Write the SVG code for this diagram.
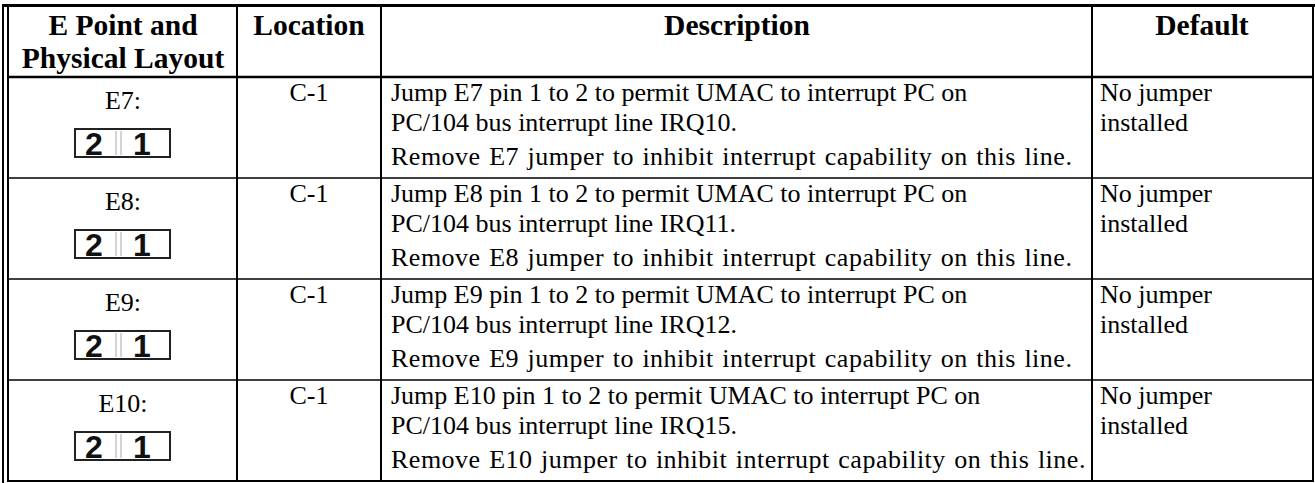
<svg xmlns="http://www.w3.org/2000/svg" width="1315" height="483" viewBox="0 0 1315 483">
<style>
.h{font-family:"Liberation Serif","Times New Roman",serif;font-weight:bold;font-size:29.5px;fill:#000;text-anchor:middle}
.t{font-family:"Liberation Serif","Times New Roman",serif;font-size:26px;fill:#000}
.w{letter-spacing:0.5px;word-spacing:1.5px}
.c{text-anchor:middle}
.pin{font-family:"Liberation Sans",Arial,sans-serif;font-weight:bold;font-size:32px;fill:#111;text-anchor:middle}
.g{stroke:#000;fill:none}
.box{fill:#fff;stroke:#222;stroke-width:2}
.sep{stroke:#aaa;stroke-width:1}
</style>
<rect width="1315" height="483" fill="#fff"/>
<g id="grid" class="g">
<line x1="2" y1="5.5" x2="1315" y2="5.5" stroke-width="3"/>
<line x1="3" y1="4" x2="3" y2="483" stroke-width="2"/>
<line x1="8" y1="7" x2="8" y2="482" stroke-width="2"/>
<line x1="1313" y1="4" x2="1313" y2="482" stroke-width="2"/>
<line x1="8" y1="481" x2="1314" y2="481" stroke-width="2"/>
<line x1="8" y1="77" x2="1313" y2="77" stroke-width="2.5"/>
<line x1="8" y1="178" x2="1313" y2="178" stroke-width="1.5"/>
<line x1="8" y1="279" x2="1313" y2="279" stroke-width="1.5"/>
<line x1="8" y1="380" x2="1313" y2="380" stroke-width="1.5"/>
<line x1="237" y1="6" x2="237" y2="481" stroke-width="2"/>
<line x1="381" y1="6" x2="381" y2="481" stroke-width="2"/>
<line x1="1092" y1="6" x2="1092" y2="481" stroke-width="2"/>
</g>
<g id="header">
<text class="h" x="123" y="35">E Point and</text>
<text class="h" x="123" y="68">Physical Layout</text>
<text class="h" x="309" y="35">Location</text>
<text class="h" x="737" y="35">Description</text>
<text class="h" x="1202" y="35">Default</text>
</g>
<defs>
<g id="jumper">
<rect class="box" x="75" y="0" width="95" height="28"/>
<line class="sep" x1="116" y1="2" x2="116" y2="26"/>
<line class="sep" x1="121" y1="2" x2="121" y2="26"/>
<text class="pin" x="94" y="25.5">2</text>
<text class="pin" x="142" y="25.5">1</text>
</g>
</defs>
<g id="row-e7">
<text class="t c" x="123" y="109">E7:</text>
<use href="#jumper" y="129"/>
<text class="t c" x="309" y="101">C-1</text>
<text class="t" x="391" y="101">Jump E7 pin 1 to 2 to permit UMAC to interrupt PC on</text>
<text class="t" x="391" y="131">PC/104 bus interrupt line IRQ10.</text>
<text class="t w" x="391" y="165">Remove E7 jumper to inhibit interrupt capability on this line.</text>
<text class="t" x="1100" y="101">No jumper</text>
<text class="t" x="1100" y="131">installed</text>
</g>
<g id="row-e8">
<text class="t c" x="123" y="210">E8:</text>
<use href="#jumper" y="230"/>
<text class="t c" x="309" y="202">C-1</text>
<text class="t" x="391" y="202">Jump E8 pin 1 to 2 to permit UMAC to interrupt PC on</text>
<text class="t" x="391" y="232">PC/104 bus interrupt line IRQ11.</text>
<text class="t w" x="391" y="266">Remove E8 jumper to inhibit interrupt capability on this line.</text>
<text class="t" x="1100" y="202">No jumper</text>
<text class="t" x="1100" y="232">installed</text>
</g>
<g id="row-e9">
<text class="t c" x="123" y="311">E9:</text>
<use href="#jumper" y="331"/>
<text class="t c" x="309" y="303">C-1</text>
<text class="t" x="391" y="303">Jump E9 pin 1 to 2 to permit UMAC to interrupt PC on</text>
<text class="t" x="391" y="333">PC/104 bus interrupt line IRQ12.</text>
<text class="t w" x="391" y="367">Remove E9 jumper to inhibit interrupt capability on this line.</text>
<text class="t" x="1100" y="303">No jumper</text>
<text class="t" x="1100" y="333">installed</text>
</g>
<g id="row-e10">
<text class="t c" x="123" y="412">E10:</text>
<use href="#jumper" y="432"/>
<text class="t c" x="309" y="404">C-1</text>
<text class="t" x="391" y="404">Jump E10 pin 1 to 2 to permit UMAC to interrupt PC on</text>
<text class="t" x="391" y="434">PC/104 bus interrupt line IRQ15.</text>
<text class="t w" x="391" y="468">Remove E10 jumper to inhibit interrupt capability on this line.</text>
<text class="t" x="1100" y="404">No jumper</text>
<text class="t" x="1100" y="434">installed</text>
</g>
</svg>
